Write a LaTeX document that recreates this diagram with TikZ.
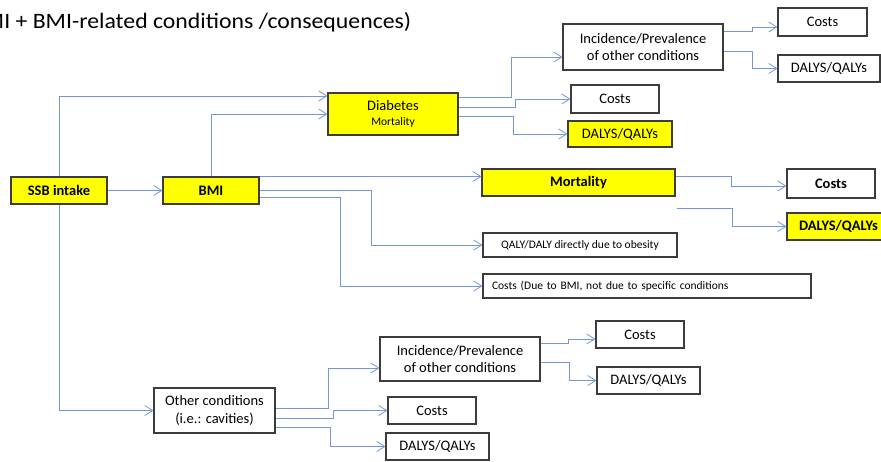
\documentclass[tikz,border=0pt]{standalone}
\usepackage{fontspec}
\setmainfont{Carlito}
\usetikzlibrary{arrows.meta, positioning, calc}
\definecolor{linkblue}{RGB}{116,152,214}
\definecolor{boxyellow}{RGB}{255,255,0}
\definecolor{boxedge}{RGB}{60,60,60}

\begin{document}
\begin{tikzpicture}[x=1pt, y=-1pt,
  every node/.style={font=\fontsize{14.5}{17.5}\selectfont},
  box/.style={draw=boxedge, line width=1.1pt, fill=white, inner sep=0pt, align=center},
  ybox/.style={box, fill=boxyellow},
  bold/.style={font=\fontsize{14.5}{17.5}\selectfont\bfseries},
  small/.style={font=\fontsize{11.5}{14}\selectfont},
  link/.style={draw=linkblue, line width=0.8pt, -{Straight Barb[length=8pt,width=10pt]}}]
\useasboundingbox (0,0) rectangle (881,461);
% title, cut at the left edge
\node[anchor=base east, xscale=1.08, font=\fontsize{22}{26}\selectfont] (title) at (415,28)
  {MI + BMI-related conditions /consequences)};
% main chain
\node[ybox, bold, minimum width=96, minimum height=27] (ssb) at (59,190.5) {SSB intake};
\node[ybox, bold, minimum width=96, minimum height=27] (bmi) at (211,190.5) {BMI};
\node[ybox, minimum width=130, minimum height=42] (dia) at (393,114)
  {Diabetes\\[-3pt]{\fontsize{11.5}{14}\selectfont Mortality}};
\node[ybox, bold, minimum width=193, minimum height=27] (mort) at (578.5,182.5) {Mortality};
\node[box, small, minimum width=194, minimum height=24] (qd) at (580,245)
  {QALY/DALY directly due to obesity};
\node[box, small, text width=310, inner xsep=9, align=left, minimum height=24] (cb) at (647,286)
  {Costs (Due to BMI, not due to specific conditions};
% diabetes branch
\node[box, minimum width=160, minimum height=46] (inc1) at (643,47)
  {Incidence/Prevalence\\of other conditions};
\node[box, minimum width=88, minimum height=28] (cost1) at (615,99) {Costs};
\node[ybox, minimum width=104, minimum height=26] (daly1) at (620,134) {DALYS/QALYs};
\node[box, minimum width=89, minimum height=28] (costT) at (822.5,22) {Costs};
\node[box, minimum width=102, minimum height=27] (dalyT) at (829,68.5) {DALYS/QALYs};
% mortality branch
\node[box, bold, minimum width=88, minimum height=29] (costM) at (831,183.5) {Costs};
\node[ybox, bold, minimum width=103, minimum height=27] (dalyM) at (838.5,226.5) {DALYS/QALYs};
\coordinate (mfree) at (677,208);
% other conditions branch
\node[box, minimum width=121, minimum height=45] (other) at (214.5,410.5)
  {Other conditions\\(i.e.: cavities)};
\node[box, minimum width=160, minimum height=44] (inc2) at (460,359)
  {Incidence/Prevalence\\of other conditions};
\node[box, minimum width=88, minimum height=27] (cost2) at (432,410.5) {Costs};
\node[box, minimum width=103, minimum height=27] (daly2) at (437.5,446.5) {DALYS/QALYs};
\node[box, minimum width=88, minimum height=27] (cost3) at (640,334.5) {Costs};
\node[box, minimum width=103, minimum height=27] (daly3) at (648.5,380.5) {DALYS/QALYs};
% connectors
\draw[link] (ssb.north) |- ([yshift=18pt]dia.west);
\draw[link] (bmi.north) |- (dia.west);
\draw[link] (ssb) -- (bmi);
\draw[link] (ssb.south) |- (other.west);
\draw[link] (bmi.north east) -- (bmi.north east -| mort.west);
\draw[link] (bmi.east) -- ++(112,0) |- (qd.west);
\draw[link] ([yshift=-6.5pt]bmi.east) -- ++(81,0) |- (cb.west);
\draw[link] ([yshift=17pt]dia.east) -- ++(53,0) |- ([yshift=-10pt]inc1.west);
\draw[link] ([yshift=7pt]dia.east) -- ++(57,0) |- (cost1.west);
\draw[link] ([yshift=-2pt]dia.east) -- ++(55,0) |- (daly1.west);
\draw[link] ([yshift=16pt]inc1.east) -- ++(29,0) |- ([yshift=-5pt]costT.west);
\draw[link] ([yshift=-4pt]inc1.east) -- ++(29,0) |- (dalyT.west);
\draw[link] ([yshift=6.5pt]mort.east) -- ++(56,0) |- ([yshift=-2.5pt]costM.west);
\draw[link] (mfree) -- ++(55,0) |- (dalyM.west);
\draw[link] ([yshift=2.5pt]other.east) -- ++(53,0) |- ([yshift=-9pt]inc2.west);
\draw[link] ([yshift=-7.5pt]other.east) -- ++(58,0) |- (cost2.west);
\draw[link] ([yshift=-16.5pt]other.east) -- ++(55,0) |- (daly2.west);
\draw[link] ([yshift=16pt]inc2.east) -- ++(28,0) |- ([yshift=-4.5pt]cost3.west);
\draw[link] ([yshift=-3pt]inc2.east) -- ++(29,0) |- (daly3.west);
\end{tikzpicture}
\end{document}
